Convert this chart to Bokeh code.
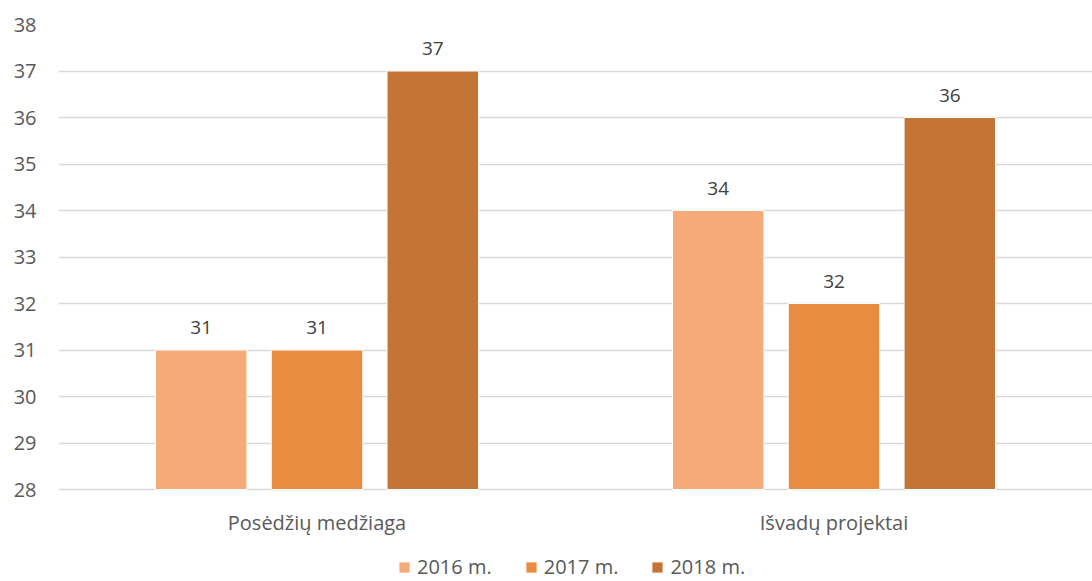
from bokeh.plotting import figure
from bokeh.models import FactorRange, ColumnDataSource, Legend, LegendItem, Range1d, LabelSet
from bokeh.transform import dodge
from bokeh.core.properties import value
from bokeh.embed import file_html
from bokeh.resources import INLINE

categories = ["Posėdžių medžiaga", "Išvadų projektai"]
years = ["2016 m.", "2017 m.", "2018 m."]
v2016 = [31, 34]
v2017 = [31, 32]
v2018 = [37, 36]
colors = ["#F7AA79", "#E88C42", "#C47535"]

# layout (pixels)
H, TOP, PX_PER_UNIT = 581, 24, 46.5
frame_h = H - TOP
y_start = 38 - frame_h / PX_PER_UNIT
cat_label_y = 28 - 33 / PX_PER_UNIT

src = ColumnDataSource(dict(cat=categories, y2016=v2016, y2017=v2017, y2018=v2018,
                            t2016=[str(v) for v in v2016],
                            t2017=[str(v) for v in v2017],
                            t2018=[str(v) for v in v2018],
                            ly=[cat_label_y] * len(categories)))

p = figure(x_range=FactorRange(*categories, range_padding=0), y_range=Range1d(y_start, 38),
           width=1092, height=H, output_backend="svg", toolbar_location=None,
           x_axis_location=None,
           min_border_left=58, min_border_right=0, min_border_top=TOP, min_border_bottom=0)

FONT = "Open Sans"
offsets = [-0.224, 0.0, 0.224]
keys = ["2016", "2017", "2018"]
items = []
for k, off, col, lab in zip(keys, offsets, colors, years):
    r = p.vbar(x=dodge("cat", off, range=p.x_range), top="y" + k, bottom=28, width=0.177,
               source=src, fill_color=col, line_color="white", line_width=1)
    items.append(LegendItem(label=lab, renderers=[r]))
    lbl = LabelSet(x=dodge("cat", off, range=p.x_range), y="y" + k, text="t" + k, source=src,
                   text_align="center", text_baseline="bottom", y_offset=16,
                   text_font=value(FONT), text_font_size="19px", text_color="#404040")
    p.add_layout(lbl)

# category labels under the bars
p.text(x="cat", y="ly", text="cat", source=src, text_align="center", text_baseline="middle",
       text_font=value(FONT), text_font_size="20px", text_color="#595959")

p.xgrid.grid_line_color = None
p.ygrid.grid_line_color = "#D9D9D9"
p.ygrid.grid_line_width = 1.3
p.outline_line_color = None

p.yaxis.ticker = list(range(28, 39))
ax = p.yaxis[0]
ax.axis_line_color = None
ax.major_tick_line_color = None
ax.minor_tick_line_color = None
ax.major_label_text_font = FONT
ax.major_label_text_color = "#595959"
ax.major_label_text_font_size = "20px"
ax.major_label_standoff = 16

legend = Legend(items=items, orientation="horizontal", location=(339, 1),
                label_text_font=FONT, label_text_font_size="20px", label_text_color="#595959",
                glyph_width=14, glyph_height=14, label_height=20, spacing=32,
                border_line_color=None, background_fill_alpha=0, margin=0, padding=0,
                label_standoff=6)
p.add_layout(legend)

open("out.html", "w").write(file_html(p, INLINE))
